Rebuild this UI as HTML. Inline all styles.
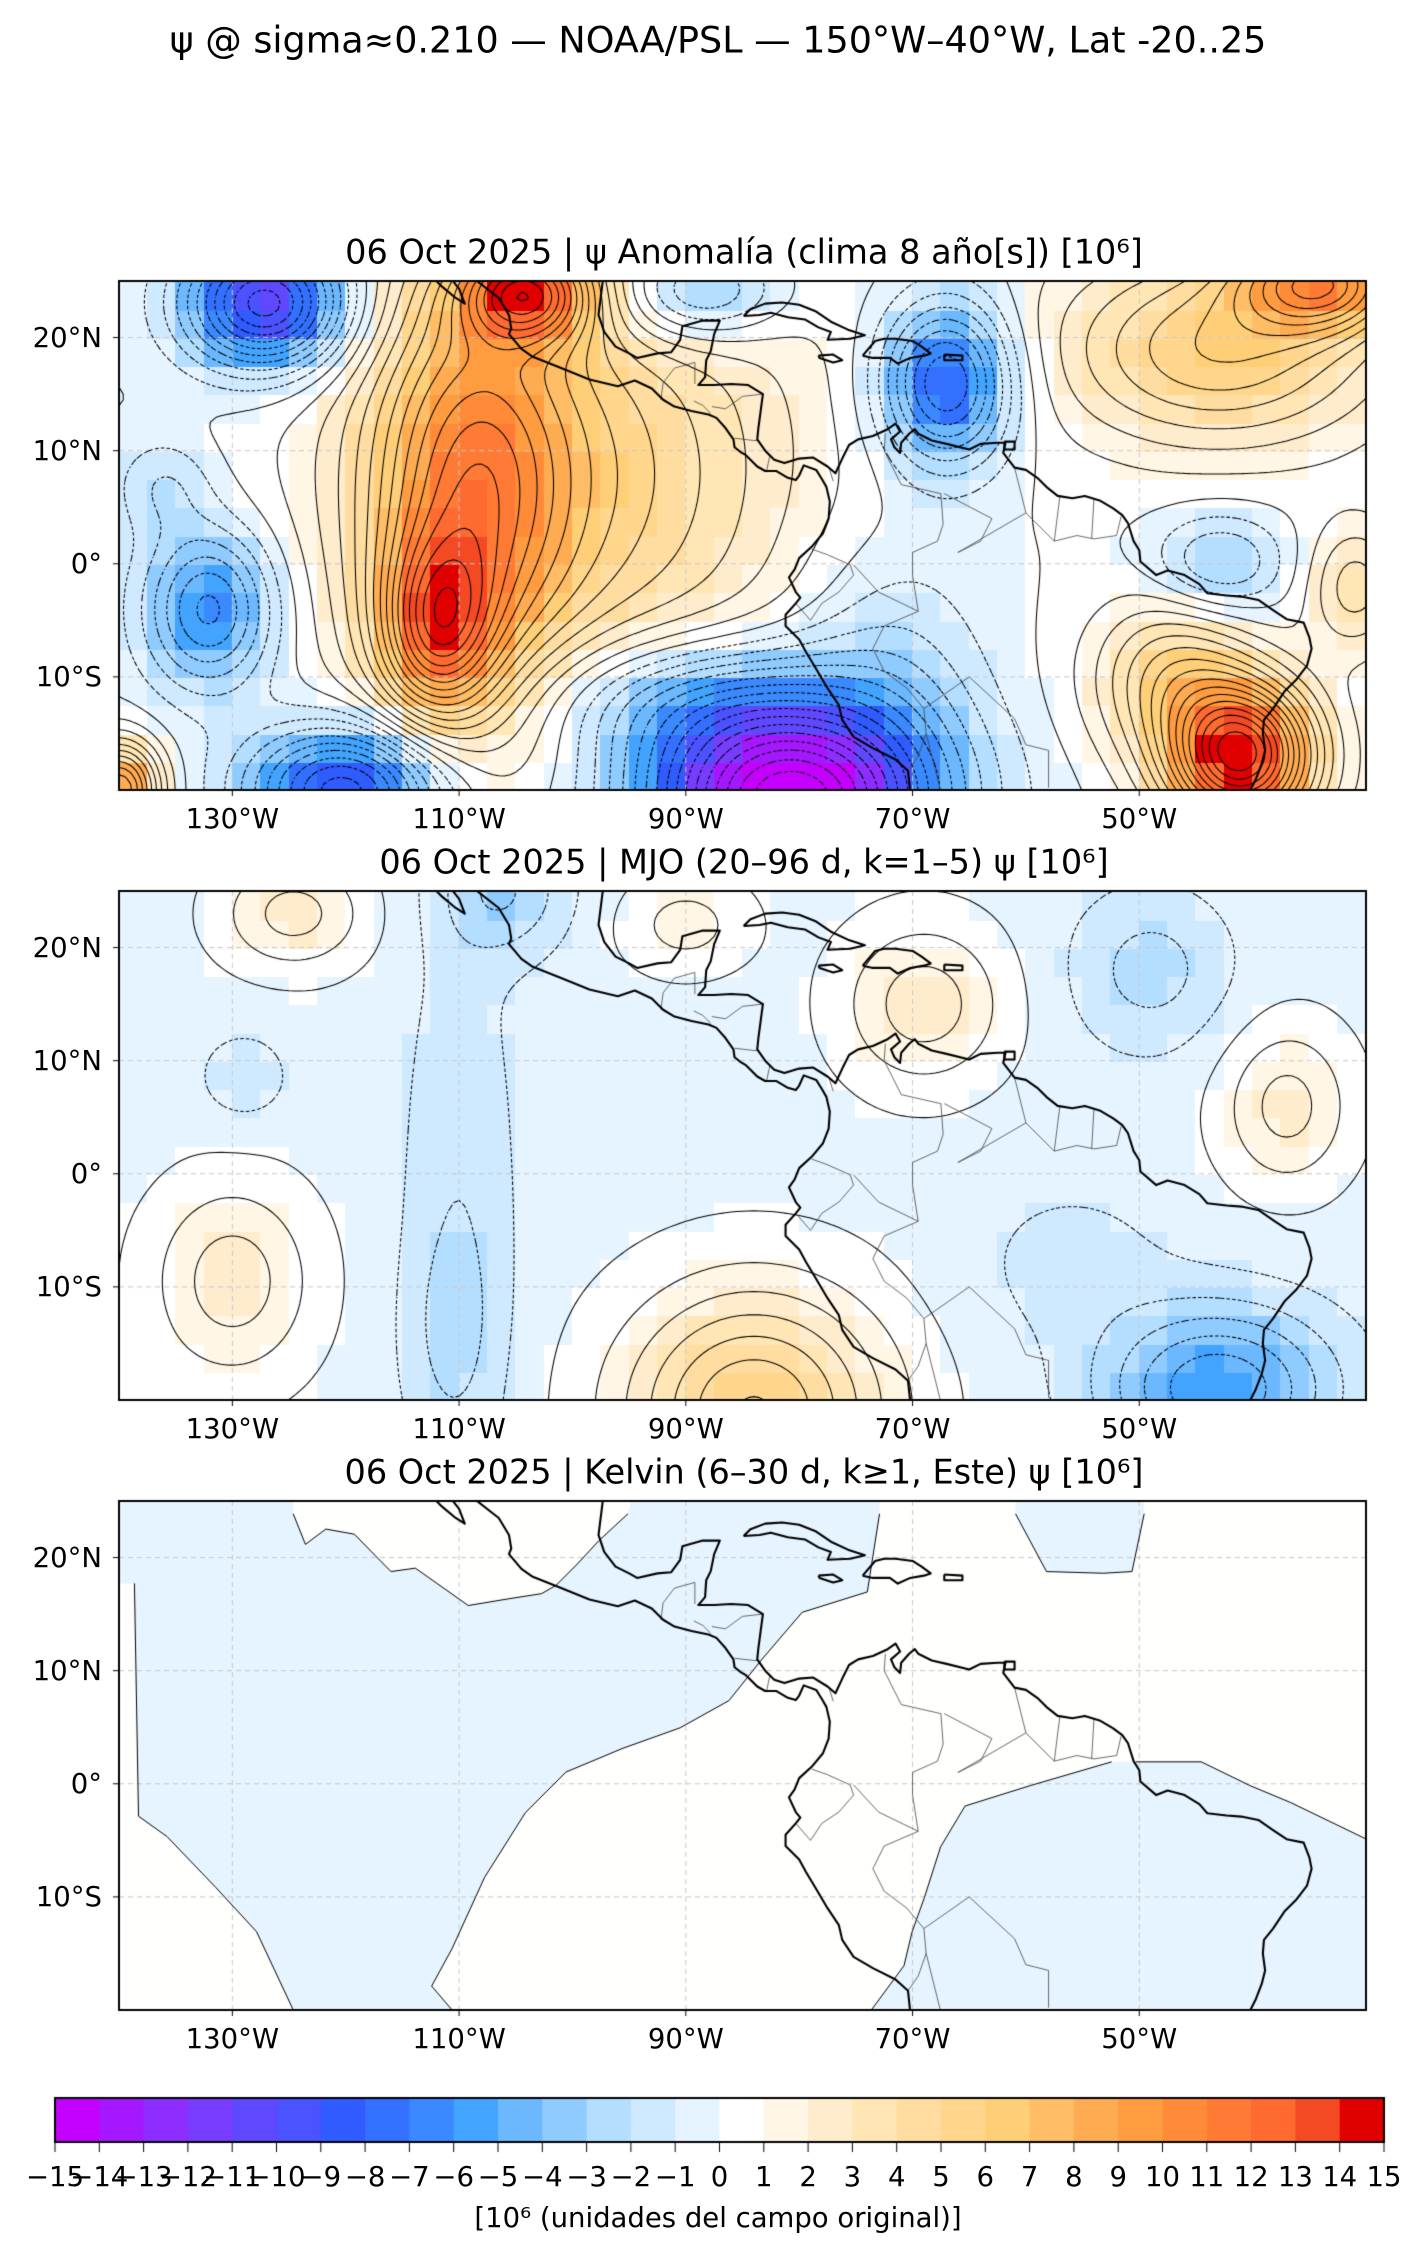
<!DOCTYPE html>
<html><head><meta charset="utf-8">
<style>
html,body{margin:0;padding:0;background:#fff;}
body{width:1420px;height:2256px;position:relative;overflow:hidden;font-family:"DejaVu Sans","Liberation Sans",sans-serif;color:#000;}
canvas{position:absolute;left:0;top:0;}
.t{position:absolute;white-space:nowrap;transform:translate(-50%,-50%);}
.yl{position:absolute;white-space:nowrap;transform:translate(-100%,-50%);font-size:27.5px;}
.xl{position:absolute;white-space:nowrap;transform:translate(-50%,-50%);font-size:27.5px;}
.ttl{font-size:33.5px;}
</style></head><body>
<canvas id="c" width="1420" height="2256"></canvas>
<div class="t" style="left:718px;top:40px;font-size:36.5px;">ψ @ sigma≈0.210 — NOAA/PSL — 150°W–40°W, Lat -20..25</div>
<div class="t ttl" style="left:744px;top:252px;">06 Oct 2025 | ψ Anomalía (clima 8 año[s]) [10⁶]</div>
<div class="t ttl" style="left:744px;top:862px;">06 Oct 2025 | MJO (20–96 d, k=1–5) ψ [10⁶]</div>
<div class="t ttl" style="left:744px;top:1472px;">06 Oct 2025 | Kelvin (6–30 d, k≥1, Este) ψ [10⁶]</div>
<div id="labels"></div>
<div class="t" style="left:718px;top:2218px;font-size:27.5px;">[10⁶ (unidades del campo original)]</div>
<script>
var cv=document.getElementById('c'),ctx=cv.getContext('2d');
var X0=119,X1=1366,H=509,TOPS=[281,891,1501];
function lx(lon){return X0+(lon+140)*(X1-X0)/110;}
function ly(top,lat){return top+(25-lat)*H/45;}
var cols=['#c400ff','#a518ff','#8e2dff','#783cff','#6048ff','#4b52ff','#2f5bff','#3370ff','#3a89ff','#42a4ff','#6bb8ff','#8fcbff','#b4deff','#cfe9ff','#e6f4ff',
'#ffffff','#fff6e5','#ffeccc','#ffe6b4','#ffdda0','#ffd68c','#ffcf78','#ffbd66','#ffab52','#ff9c3f','#ff8b38','#ff7b35','#ff6a30','#f44a24','#e00000'];
function colOf(v){var k=Math.floor(v)+15;if(k<0)k=0;if(k>29)k=29;return cols[k];}
function mk(gs,base){return function(lon,lat){var s=base;for(var i=0;i<gs.length;i++){var g=gs[i];var dx=(lon-g[0])/g[3],dy=(lat-g[1])/g[4];s+=g[2]*Math.exp(-0.5*(dx*dx+dy*dy));}return s;};}
var f1=mk([
[-112,-6,8,3.5,5.5],[-109,6,7.5,6,13],[-104,24,10,4,3],[-100,8,5.5,14,15],
[-127,23,-11,5,4],[-132,-4,-6.5,4,5],[-120,-20,-10,6,4],[-81,-21,-17,9,6],[-90,-12,-4,10,4],
[-67,16,-8.5,4,5],[-89,24,-5,5,3],[-34,25,9,5,3],[-43,19,6,10,6],[-43,0,-3.5,4,3],
[-41,-17,15,4.5,4.5],[-47,-10,5,5,5],[-31,-2,3.5,3,4],[-140,-20,10,2.5,3],[-72,-8,-2,6,8],[-136,7,-2,3,3]],0);
var f2=mk([
[-124.6,23,2.8,4.5,3.5],[-129,8.5,-1.2,3,3],[-130,-9.5,3,5,6],[-110,-5,-1.5,3.5,20],[-111,-14,-0.8,3,6],[-106,25,-2.5,4,4],
[-84,-21,6.5,8,7.5],[-69,15,3,5,5],[-90,22,1.8,4,3],[-49,18,-2,5,5],[-37,6,2.8,4,5],[-43,-19,-5.5,7,5],[-56,-8,-1,6,5],[-140,-20,1,3,3]],-0.4);
function drawField(top,f,levels){
  ctx.save();ctx.beginPath();ctx.rect(X0,top,X1-X0,H);ctx.clip();
  for(var lo=-140;lo<-30;lo+=2.5)for(var la=-20;la<25;la+=2.5){
    ctx.fillStyle=colOf(f(lo+1.25,la+1.25));
    var x=lx(lo),y=ly(top,la+2.5);ctx.fillRect(Math.floor(x),Math.floor(y),Math.ceil(lx(lo+2.5)-x)+1,Math.ceil(ly(top,la)-y)+1);}
  grid(top);
  var st=0.5,ni=220,nj=90,g=[];
  for(var j=0;j<=nj;j++){g[j]=[];for(var i=0;i<=ni;i++)g[j][i]=f(-140+i*st,-20+j*st);}
  ctx.strokeStyle='#000';ctx.lineWidth=1.05;
  for(var L=levels[0];L<=levels[1];L++){
    ctx.setLineDash(L<0?[3.5,2.5]:[]);ctx.beginPath();
    for(var j=0;j<nj;j++)for(var i=0;i<ni;i++){
      var v=[g[j][i],g[j][i+1],g[j+1][i+1],g[j+1][i]];
      var p=[[i,j],[i+1,j],[i+1,j+1],[i,j+1]];var pts=[];
      for(var e=0;e<4;e++){var a=v[e],b=v[(e+1)%4];if((a<L)!=(b<L)){var t=(L-a)/(b-a);var A=p[e],B=p[(e+1)%4];
        pts.push([lx(-140+(A[0]+t*(B[0]-A[0]))*st),ly(top,-20+(A[1]+t*(B[1]-A[1]))*st)]);}}
      for(var k=0;k+1<pts.length;k+=2){ctx.moveTo(pts[k][0],pts[k][1]);ctx.lineTo(pts[k+1][0],pts[k+1][1]);}
    }
    ctx.stroke();
  }
  ctx.setLineDash([]);
  coast(top);ctx.restore();frame(top);
}
function grid(top){
  ctx.save();ctx.strokeStyle='#c8c8c8';ctx.lineWidth=1;ctx.setLineDash([5,4]);ctx.beginPath();
  [-130,-110,-90,-70,-50].forEach(function(l){ctx.moveTo(lx(l),top);ctx.lineTo(lx(l),top+H);});
  [20,10,0,-10].forEach(function(l){ctx.moveTo(X0,ly(top,l));ctx.lineTo(X1,ly(top,l));});
  ctx.stroke();ctx.restore();
}
function frame(top){ctx.strokeStyle='#000';ctx.lineWidth=2;ctx.setLineDash([]);ctx.strokeRect(X0,top,X1-X0,H);}
var coasts=[
[[-112.2,25.2],[-111.5,24.5],[-110.3,23.5],[-109.5,23],[-110,24.3],[-110.7,25.2]],
[[-108.8,25.3],[-106.5,23.5],[-105.6,22],[-105.4,20.8],[-105.6,20.3],[-104.5,19],[-103.5,18.3],[-101,17.3],[-98.5,16.3],[-96,15.7],[-94.5,16.2],[-93,15.5],[-92,14.5],[-91,13.9],[-89.5,13.5],[-88,13.2],[-87.3,12.9],[-86.5,12],[-85.8,11],[-85.7,10.3],[-85.2,9.9],[-84.7,9.6],[-83.7,8.6],[-83,8.2],[-82,8.2],[-81,7.6],[-80.3,7.4],[-80,7.8],[-79.6,8.7],[-78.5,8.3],[-78,7.5],[-77.6,6.8],[-77.3,5.5],[-77.4,4],[-77.9,2.7],[-78.9,1.5],[-80,0.5],[-80.4,-0.5],[-80.9,-1.2],[-80.3,-2.5],[-79.9,-3],[-80.3,-3.5],[-81.2,-4.5],[-81.2,-5.5],[-80,-6.7],[-79.4,-7.8],[-78.5,-9.3],[-77.5,-11],[-76.5,-12.5],[-76.2,-13.8],[-75.2,-15.3],[-73.5,-16.3],[-71.5,-17.3],[-70.4,-18.3],[-70.2,-20.2]],
[[-97.3,25.2],[-97.7,22],[-97.2,20.5],[-96.2,19.2],[-95,18.6],[-94.3,18.2],[-92.5,18.6],[-91.3,18.7],[-90.5,19.8],[-90.3,21],[-88.5,21.5],[-87,21.5],[-87.5,20.3],[-87.8,18.8],[-88.2,18],[-88.3,16.5],[-88.9,15.8],[-87.5,15.8],[-86,15.9],[-84.5,15.8],[-83.2,15],[-83.4,13.5],[-83.6,12],[-83.7,11],[-83,10],[-82.2,9.2],[-81.3,8.9],[-80,9.3],[-78.8,9.4],[-77.5,8.6],[-76.8,8],[-76.2,9.3],[-75.6,10.5],[-74.8,11],[-73.5,11.3],[-72.2,11.9],[-71.5,12.4],[-71.1,11.7],[-71.9,11],[-71.6,10.3],[-71.1,9.8],[-71,10.7],[-70.3,11.5],[-69.8,11.9],[-69.5,11.5],[-68.3,10.9],[-67,10.6],[-65,10.1],[-64,10.6],[-62.5,10.7],[-61.8,10.7],[-62,9.8],[-61,8.5],[-60,8.3],[-59,7.6],[-58.2,6.8],[-57.2,6],[-55.9,5.8],[-54.8,6],[-53.5,5.6],[-52.3,4.9],[-51.5,4.3],[-51,3.6],[-50.5,2],[-50,1.2],[-49.9,0.2],[-48.5,-1],[-47.5,-0.6],[-46,-1],[-44.7,-1.8],[-44,-2.6],[-42.3,-2.8],[-41,-2.9],[-39.5,-3.2],[-38.2,-4.1],[-37,-4.9],[-35.5,-5.2],[-35,-6.5],[-34.8,-7.5],[-35.2,-9],[-36.2,-10.3],[-37.2,-11.3],[-38.2,-12.8],[-39,-13.8],[-39.1,-15],[-38.9,-16.5],[-39.2,-17.7],[-39.7,-19],[-40.3,-20.2]],
[[-84.9,21.9],[-84.3,22.5],[-83,23],[-81.5,23.1],[-80,22.9],[-78.5,22.3],[-77.2,21.4],[-75.7,20.7],[-74.2,20.2],[-75.5,19.9],[-77.5,19.8],[-77.2,20.5],[-78.3,20.9],[-79.5,21.6],[-81,21.8],[-82.5,22.2],[-83.5,22],[-84.9,21.9]],
[[-74.4,18.4],[-73.3,19.7],[-72.5,19.9],[-71.5,19.9],[-70,19.7],[-69.2,19.2],[-68.4,18.6],[-69,18.4],[-70.2,18.2],[-71.3,17.7],[-72,18.2],[-73.5,18.2],[-74.4,18.4]],
[[-78.3,18.4],[-77,18.5],[-76.2,18],[-77,17.8],[-78.2,18.2],[-78.3,18.4]],
[[-67.2,18.5],[-65.6,18.4],[-65.6,18],[-67.2,18],[-67.2,18.5]],
[[-61.9,10.8],[-61,10.8],[-61,10.1],[-61.9,10.1],[-61.9,10.8]],
[[-81.1,25.3],[-80.5,25.1],[-80.2,25.6]]];
var borders=[
[[-92.2,14.5],[-92,16],[-91,17.3],[-89.2,17.8],[-89.2,15.9]],[[-89.3,14.4],[-88.5,14],[-87.8,13.3]],[[-87.7,13.9],[-86.5,13.7],[-85,14.8],[-83.2,15]],
[[-85.7,11.1],[-84,10.9],[-83.6,10.9]],[[-82.9,8.1],[-82.6,9.5]],[[-77.4,8.6],[-77,7.3]],
[[-78.9,1.3],[-77.5,0.8],[-75.5,-0.1],[-75.2,-1],[-76.5,-2.5],[-78,-3.5],[-79,-5],[-80.3,-3.5]],
[[-72.4,11.5],[-72.5,10],[-71,7],[-67.5,6.2],[-67.3,3.5],[-67.8,2],[-70,1],[-70,-1],[-69.5,-4.2],[-73,-2.5],[-75.2,-0.1]],
[[-69.5,-4.2],[-72.5,-5.5],[-73.5,-7.5],[-72.5,-9.5],[-70.5,-11],[-69,-12.8],[-68.8,-15],[-69.5,-17],[-70.4,-18.3]],
[[-67.2,6.2],[-63,4],[-64,2],[-66,1],[-60,4.5],[-61,8.5]],[[-60,4.5],[-57.5,2],[-55.5,2.5],[-54,2.2],[-52,2.5],[-51.6,4.2]],[[-57,6],[-57.5,2]],[[-54,5.7],[-54.2,2.2]],
[[-69,-12.8],[-65,-10],[-61,-13.7],[-60,-16],[-58,-16.5],[-58,-19.8]],[[-68.8,-15],[-67.5,-20.2]]];
function pl(top,pts){ctx.beginPath();pts.forEach(function(p,i){var x=lx(p[0]),y=ly(top,p[1]);if(i)ctx.lineTo(x,y);else ctx.moveTo(x,y);});ctx.stroke();}
function coast(top){ctx.setLineDash([]);ctx.strokeStyle='#444';ctx.lineWidth=0.8;borders.forEach(function(b){pl(top,b);});
  ctx.strokeStyle='#000';ctx.lineWidth=2.1;ctx.lineJoin='round';coasts.forEach(function(c){pl(top,c);});}
drawField(TOPS[0],f1,[-17,17]);
drawField(TOPS[1],f2,[-6,6]);
(function(){var top=TOPS[2];
 function zp(p){return [110+p[0]/1.228,1490+p[1]/2.943];}
 var blue=[
 [[10,30],[225,30],[225,70],[240,160],[265,115],[300,130],[345,240],[375,230],[440,340],[490,320],[530,305],[548,280],[575,215],[600,150],[636,70],[640,30],[945,30],[945,70],[930,300],[850,360],[800,500],[760,620],[700,700],[630,760],[560,830],[510,950],[460,1140],[420,1350],[395,1460],[420,1530],[225,1530],[180,1300],[130,1170],[70,1020],[35,960],[30,275],[10,275]],
 [[1112,30],[1112,70],[1150,240],[1220,245],[1255,240],[1270,70],[1270,30]],
 [[1230,800],[1130,870],[1050,930],[1020,1050],[1000,1200],[985,1300],[975,1400],[935,1530],[1545,1530],[1545,1030],[1450,920],[1400,870],[1340,800],[1260,800]]];
 var lines=[
 [[225,70],[240,160],[265,115],[300,130],[345,240],[375,230],[440,340],[490,320],[530,305],[548,280],[575,215],[600,150],[636,70]],
 [[945,70],[930,300],[850,360],[800,500],[760,620],[700,700],[630,760],[560,830],[510,950],[460,1140],[420,1350],[395,1460],[420,1530]],
 [[30,275],[35,960],[70,1020],[130,1170],[180,1300],[225,1530]],
 [[1112,70],[1150,240],[1220,245],[1255,240],[1270,70]],
 [[1230,800],[1130,870],[1050,930],[1020,1050],[1000,1200],[985,1300],[975,1400],[935,1530]],
 [[1260,800],[1340,800],[1400,870],[1450,920],[1545,1030]]];
 ctx.save();ctx.beginPath();ctx.rect(X0,top,X1-X0,H);ctx.clip();
 ctx.fillStyle='#fffffd';ctx.fillRect(X0,top,X1-X0,H);
 ctx.fillStyle='#e6f4ff';
 blue.forEach(function(poly){ctx.beginPath();poly.forEach(function(p,i){var q=zp(p);if(i)ctx.lineTo(q[0],q[1]);else ctx.moveTo(q[0],q[1]);});ctx.closePath();ctx.fill();});
 grid(top);
 ctx.strokeStyle='#000';ctx.lineWidth=1;
 lines.forEach(function(l){ctx.beginPath();l.forEach(function(p,i){var q=zp(p);if(i)ctx.lineTo(q[0],q[1]);else ctx.moveTo(q[0],q[1]);});ctx.stroke();});
 coast(top);ctx.restore();frame(top);
})();
(function(){var x0=55,x1=1384,y0=2098,y1=2142,w=(x1-x0)/30;
 for(var k=0;k<30;k++){ctx.fillStyle=cols[k];ctx.fillRect(x0+k*w,y0,w+1,y1-y0);}
 ctx.strokeStyle='#000';ctx.lineWidth=2;ctx.strokeRect(x0,y0,x1-x0,y1-y0);
 ctx.lineWidth=1;ctx.beginPath();for(var k=0;k<=30;k++){ctx.moveTo(x0+k*w,y1);ctx.lineTo(x0+k*w,y1+10);}ctx.stroke();
 var h='';for(var k=0;k<=30;k++){var v=k-15;h+='<div class="xl" style="left:'+(x0+k*w)+'px;top:2177px;">'+(v<0?'−'+(-v):v)+'</div>';}
 var lab=['130°W','110°W','90°W','70°W','50°W'],ll=[-130,-110,-90,-70,-50];
 TOPS.forEach(function(t){
   ll.forEach(function(l,i){h+='<div class="xl" style="left:'+lx(l)+'px;top:'+(t+H+29)+'px;">'+lab[i]+'</div>';});
   [[20,'20°N'],[10,'10°N'],[0,'0°'],[-10,'10°S']].forEach(function(a){h+='<div class="yl" style="left:102px;top:'+ly(t,a[0])+'px;">'+a[1]+'</div>';});
   ctx.beginPath();ll.forEach(function(l){ctx.moveTo(lx(l),t+H);ctx.lineTo(lx(l),t+H+6);});
   [20,10,0,-10].forEach(function(a){ctx.moveTo(X0,ly(t,a));ctx.lineTo(X0-6,ly(t,a));});ctx.stroke();
 });
 document.getElementById('labels').innerHTML=h;
})();
</script>
</body></html>
